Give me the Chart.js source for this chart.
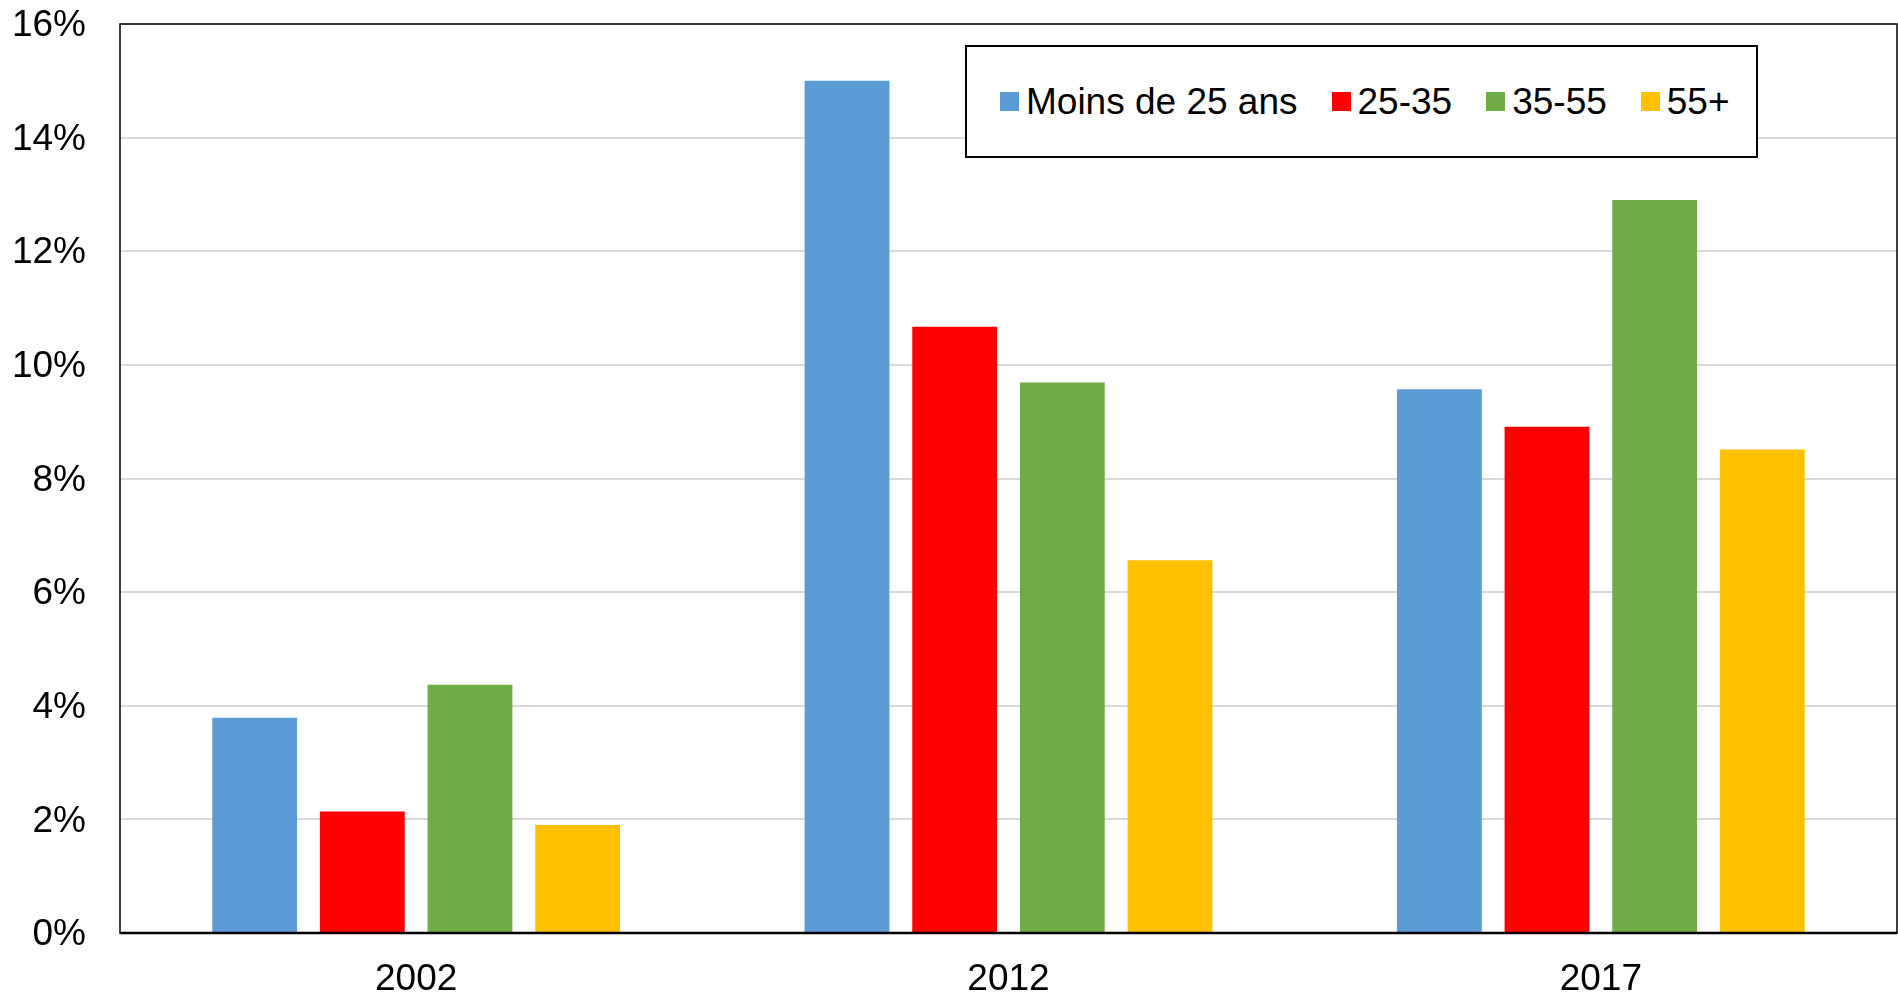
<!DOCTYPE html>
<html lang="fr">
<head>
<meta charset="utf-8">
<title>Chômage par âge</title>
<script src="https://cdn.jsdelivr.net/npm/chart.js@4.4.1/dist/chart.umd.min.js"></script>
<style>
  html, body { margin: 0; padding: 0; background: #fff; }
  #wrap { position: relative; width: 1898px; height: 995px; }
  #legend {
    position: absolute;
    left: 965px;
    top: 45px;
    width: 793px;
    height: 113px;
    border: 2px solid #000;
    background: #fff;
    display: flex;
    align-items: center;
    padding-left: 33px;
    font-family: "Liberation Sans", Arial, sans-serif;
    font-size: 37px;
    color: #000;
    box-sizing: border-box;
  }
  #legend .item { display: flex; align-items: center; margin-right: 34px; white-space: nowrap; }
  #legend .box { width: 19px; height: 19px; margin-right: 7px; }
</style>
</head>
<body>
<div id="wrap">
  <canvas id="chart" width="1898" height="995"></canvas>
  <div id="legend"></div>
</div>
<script>
const years = ["2002", "2012", "2017"];
const seriesNames = ["Moins de 25 ans", "25-35", "35-55", "55+"];
const moins25 = [3.79, 15.0, 9.57];
const age25_35 = [2.14, 10.67, 8.91];
const age35_55 = [4.37, 9.69, 12.9];
const age55plus = [1.9, 6.56, 8.51];
const colors = ["#5B9BD5", "#FF0000", "#70AD47", "#FFC000"];
const yTicks = [0, 2, 4, 6, 8, 10, 12, 14, 16];

const allValues = [moins25, age25_35, age35_55, age55plus];
const font = { family: "'Liberation Sans', Arial, sans-serif", size: 37 };

// border around the whole plot area, like the original
const frame = {
  id: "frame",
  afterDatasetsDraw(chart) {
    const { ctx, chartArea: a } = chart;
    ctx.save();
    ctx.strokeStyle = "#000";
    ctx.lineWidth = 1.5;
    ctx.strokeRect(a.left, a.top, a.right - a.left, a.bottom - a.top);
    ctx.lineWidth = 2.5;
    ctx.beginPath();
    ctx.moveTo(a.left, a.bottom);
    ctx.lineTo(a.right, a.bottom);
    ctx.stroke();
    ctx.restore();
  },
};

const chart = new Chart(document.getElementById("chart"), {
  type: "bar",
  data: {
    labels: years,
    datasets: seriesNames.map((name, i) => ({
      label: name,
      data: allValues[i],
      backgroundColor: colors[i],
      borderWidth: 0,
      categoryPercentage: 0.727,
      barPercentage: 0.788,
    })),
  },
  options: {
    responsive: false,
    animation: false,
    layout: { padding: { top: 24, right: 1, left: 0, bottom: 0 } },
    plugins: {
      legend: { display: false },
      tooltip: { enabled: false },
    },
    scales: {
      x: {
        grid: { display: false, drawTicks: false },
        border: { display: false },
        ticks: { color: "#000", font: font, padding: 25, maxRotation: 0 },
        afterFit(scale) { scale.height = 62; },
      },
      y: {
        min: 0,
        max: 16,
        afterBuildTicks(scale) { scale.ticks = yTicks.map(v => ({ value: v })); },
        grid: { color: "#d9d9d9", lineWidth: 2, drawTicks: true, tickLength: 34, tickColor: "rgba(0,0,0,0)" },
        border: { display: false },
        ticks: {
          color: "#000",
          font: font,
          padding: 0,
          labelOffset: 2,
          callback: v => v + "%",
        },
        afterFit(scale) { scale.width = 120; },
      },
    },
  },
  plugins: [frame],
});

// legend built from the chart's datasets
const legendEl = document.getElementById("legend");
chart.data.datasets.forEach(ds => {
  const item = document.createElement("div");
  item.className = "item";
  const box = document.createElement("span");
  box.className = "box";
  box.style.background = ds.backgroundColor;
  const txt = document.createElement("span");
  txt.textContent = ds.label;
  item.appendChild(box);
  item.appendChild(txt);
  legendEl.appendChild(item);
});
</script>
</body>
</html>
